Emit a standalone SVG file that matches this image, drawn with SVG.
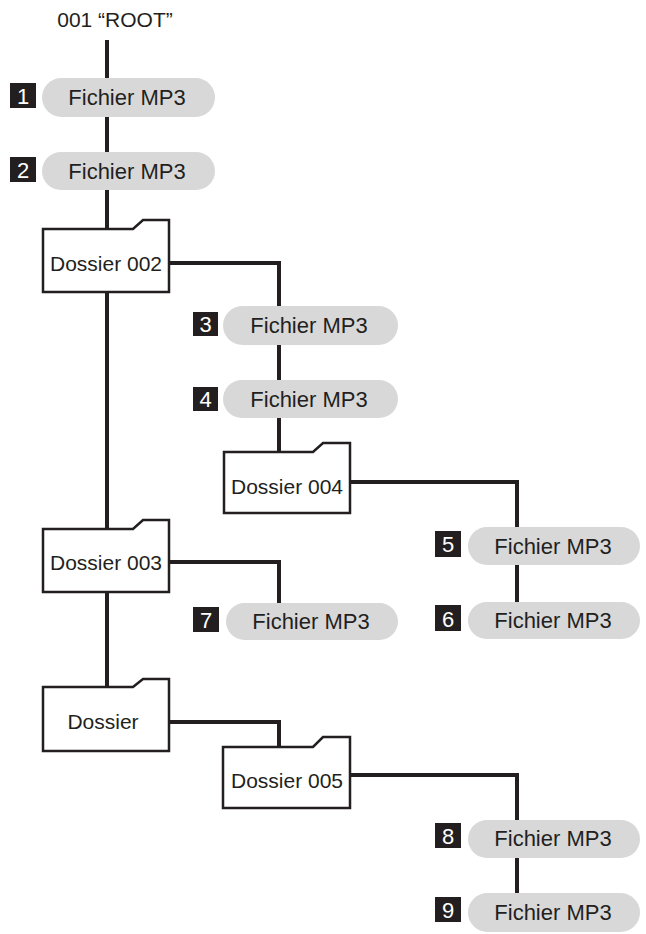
<svg xmlns="http://www.w3.org/2000/svg" width="646" height="934" viewBox="0 0 646 934">
<style>
.conn{fill:none;stroke:#231f20;stroke-width:4;stroke-linejoin:miter}
.pill{fill:#d8d8d8}
.badge{fill:#231f20}
.num{fill:#ffffff;font-family:"Liberation Sans",Arial,sans-serif;font-size:22px;text-anchor:middle}
.lbl{fill:#231f20;font-family:"Liberation Sans",Arial,sans-serif;font-size:22px;text-anchor:middle}
.fold{fill:#ffffff;stroke:#231f20;stroke-width:2.5;stroke-linejoin:miter}
.flbl{fill:#231f20;font-family:"Liberation Sans",Arial,sans-serif;font-size:21px;text-anchor:middle}
</style>
<rect width="646" height="934" fill="#ffffff"/>
<g id="connectors">
<path class="conn" d="M107 40 V687"/>
<path class="conn" d="M169 263 H279 V452"/>
<path class="conn" d="M350 482 H517 V602"/>
<path class="conn" d="M169 562 H279 V603"/>
<path class="conn" d="M169 722 H279 V747"/>
<path class="conn" d="M350 775 H517 V893"/>
</g>
<g id="root"><text class="flbl" x="115" y="27">001 “ROOT”</text></g>
<g id="file1"><rect class="pill" x="42" y="78" width="173" height="39" rx="19.5"/><rect class="badge" x="10" y="83" width="26" height="25"/><text class="num" x="23" y="104">1</text><text class="lbl" x="127" y="105">Fichier MP3</text></g>
<g id="file2"><rect class="pill" x="42" y="152" width="173" height="38" rx="19"/><rect class="badge" x="10" y="157" width="26" height="25"/><text class="num" x="23" y="178">2</text><text class="lbl" x="127" y="179">Fichier MP3</text></g>
<g id="folder002"><path class="fold" d="M43 229 H133 L143 220 H169 V292 H43 Z"/><text class="flbl" x="106" y="271">Dossier 002</text></g>
<g id="file3"><rect class="pill" x="223" y="306" width="175" height="39" rx="19.5"/><rect class="badge" x="193" y="312" width="25" height="24"/><text class="num" x="205.5" y="332">3</text><text class="lbl" x="309" y="333">Fichier MP3</text></g>
<g id="file4"><rect class="pill" x="223" y="380" width="175" height="38" rx="19"/><rect class="badge" x="193" y="387" width="25" height="24"/><text class="num" x="205.5" y="407">4</text><text class="lbl" x="309" y="407">Fichier MP3</text></g>
<g id="folder004"><path class="fold" d="M224 452 H313 L323 443 H350 V513 H224 Z"/><text class="flbl" x="287" y="494">Dossier 004</text></g>
<g id="file5"><rect class="pill" x="468" y="527" width="172" height="38" rx="19"/><rect class="badge" x="435" y="531" width="26" height="26"/><text class="num" x="448" y="552">5</text><text class="lbl" x="553" y="554">Fichier MP3</text></g>
<g id="file6"><rect class="pill" x="468" y="602" width="172" height="37" rx="18.5"/><rect class="badge" x="435" y="605" width="26" height="26"/><text class="num" x="448" y="627">6</text><text class="lbl" x="553" y="628">Fichier MP3</text></g>
<g id="folder003"><path class="fold" d="M43 529 H133 L143 520 H169 V592 H43 Z"/><text class="flbl" x="106" y="570">Dossier 003</text></g>
<g id="file7"><rect class="pill" x="226" y="603" width="172" height="37" rx="18.5"/><rect class="badge" x="193" y="607" width="26" height="25"/><text class="num" x="206" y="628">7</text><text class="lbl" x="311" y="629">Fichier MP3</text></g>
<g id="folder"><path class="fold" d="M43 687 H133 L143 679 H169 V751 H43 Z"/><text class="flbl" x="103" y="729">Dossier</text></g>
<g id="folder005"><path class="fold" d="M223 747 H313 L323 737 H350 V808 H223 Z"/><text class="flbl" x="287" y="788">Dossier 005</text></g>
<g id="file8"><rect class="pill" x="468" y="820" width="172" height="38" rx="19"/><rect class="badge" x="435" y="823" width="26" height="25"/><text class="num" x="448" y="844">8</text><text class="lbl" x="553" y="846">Fichier MP3</text></g>
<g id="file9"><rect class="pill" x="468" y="893" width="172" height="39" rx="19.5"/><rect class="badge" x="435" y="897" width="26" height="25"/><text class="num" x="448" y="918">9</text><text class="lbl" x="553" y="920">Fichier MP3</text></g>
</svg>
